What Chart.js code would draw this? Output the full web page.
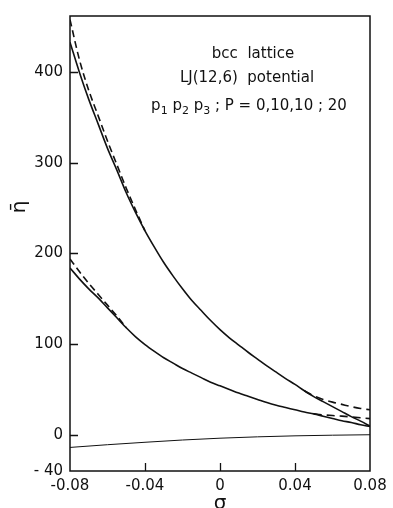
<!DOCTYPE html>
<html>
<head>
<meta charset="utf-8">
<script src="https://cdn.jsdelivr.net/npm/chart.js@4.4.1/dist/chart.umd.min.js"></script>
<style>
  html, body { margin: 0; padding: 0; background: #fff; }
</style>
</head>
<body>
<canvas id="chart" width="393" height="508"></canvas>
<script>
// strain values (sigma) for the solid curves
const sigma = [-0.08, -0.075, -0.07, -0.065, -0.06, -0.055, -0.05, -0.045, -0.04, -0.035, -0.03,
  -0.025, -0.02, -0.015, -0.01, -0.005, 0, 0.005, 0.01, 0.015, 0.02, 0.025, 0.03, 0.035, 0.04,
  0.045, 0.05, 0.055, 0.06, 0.065, 0.07, 0.075, 0.08];
const upperSolid = [433, 400, 370, 343, 316, 292, 267, 245, 225, 207, 190, 175, 161, 148, 137, 126,
  116, 107, 99, 91, 83.5, 76, 69, 62, 55.5, 48.5, 42, 36.5, 31, 25.5, 20, 15, 9.5];
const lowerSolid = [184, 172, 161, 151, 140, 129, 118, 108, 99.5, 92, 85, 79, 73, 68, 63, 58,
  54, 50, 46, 42.5, 39, 35.5, 32.5, 30, 27.5, 25, 23, 20.5, 18, 15.5, 13.5, 11, 9];

// bottom curve
const sigmaBottom = [-0.08, -0.06, -0.04, -0.02, 0, 0.02, 0.04, 0.06, 0.08];
const bottomSolid = [-14, -11, -8.3, -5.8, -3.8, -2.3, -1.2, -0.5, 0];

// dashed branches
const sigmaUpperDashL = [-0.08, -0.075, -0.07, -0.065, -0.06, -0.055, -0.05, -0.045, -0.04];
const upperDashL = [458, 414, 380, 352, 324, 298, 272, 248, 225];
const sigmaLowerDashL = [-0.08, -0.075, -0.07, -0.065, -0.06, -0.055, -0.05];
const lowerDashL = [194, 180, 167, 155, 143, 131, 118];
const sigmaUpperDashR = [0.045, 0.05, 0.055, 0.06, 0.065, 0.07, 0.075, 0.08];
const upperDashR = [48.5, 43, 39, 36, 33.5, 31, 29, 27.5];
const sigmaLowerDashR = [0.05, 0.055, 0.06, 0.065, 0.07, 0.075, 0.08];
const lowerDashR = [23, 22, 21.2, 20.5, 19.6, 18.7, 17.8];

// ticks
const xTickValues = [-0.08, -0.04, 0, 0.04, 0.08];
const xTickLabels = ['-0.08', '-0.04', '0', '0.04', '0.08'];
const xTickMarks = [-0.04, 0, 0.04];
const yTickValues = [-40, 0, 100, 200, 300, 400];
const yTickLabels = ['- 40', '0', '100', '200', '300', '400'];
const yTickMarks = [0, 100, 200, 300, 400];

const FONT = 'DejaVu Sans';

const pts = (xs, ys) => xs.map((x, i) => ({ x, y: ys[i] }));

function line(data, opts) {
  return Object.assign({
    data,
    borderColor: '#111',
    borderWidth: 1.6,
    pointRadius: 0,
    fill: false,
    cubicInterpolationMode: 'monotone'
  }, opts || {});
}

// frame, inward tick marks, annotation, y title
const decor = {
  id: 'decor',
  afterDraw(chart) {
    const { ctx, chartArea: a, scales } = chart;
    ctx.save();
    ctx.strokeStyle = '#111';
    ctx.lineWidth = 1.5;
    ctx.strokeRect(a.left, a.top, a.right - a.left, a.bottom - a.top);

    ctx.lineWidth = 1.3;
    ctx.beginPath();
    yTickMarks.forEach(v => {
      const y = Math.round(scales.y.getPixelForValue(v)) + 0.5;
      ctx.moveTo(a.left, y);
      ctx.lineTo(a.left + 8, y);
    });
    xTickMarks.forEach(v => {
      const x = Math.round(scales.x.getPixelForValue(v)) + 0.5;
      ctx.moveTo(x, a.bottom);
      ctx.lineTo(x, a.bottom - 8);
    });
    ctx.stroke();

    // text block
    ctx.fillStyle = '#111';
    ctx.textBaseline = 'alphabetic';
    ctx.textAlign = 'center';
    ctx.font = `15px ${FONT}`;
    const cx = a.left + (a.right - a.left) * 0.61;
    ctx.fillText('bcc  lattice', cx, a.top + 42);
    ctx.fillText('LJ(12,6)  potential', cx - 6, a.top + 66);

    const runs = [['p', 0], ['1', 1], [' p', 0], ['2', 1], [' p', 0], ['3', 1], [' ; P = 0,10,10 ; 20', 0]];
    const big = `15px ${FONT}`, small = `11px ${FONT}`;
    let w = 0;
    runs.forEach(r => { ctx.font = r[1] ? small : big; w += ctx.measureText(r[0]).width; });
    let x = cx - 4 - w / 2;
    const base = a.top + 94;
    ctx.textAlign = 'left';
    runs.forEach(r => {
      ctx.font = r[1] ? small : big;
      ctx.fillText(r[0], x, r[1] ? base + 4 : base);
      x += ctx.measureText(r[0]).width;
    });

    // y axis title
    ctx.translate(20, 207);
    ctx.rotate(-Math.PI / 2);
    ctx.textAlign = 'center';
    ctx.textBaseline = 'middle';
    ctx.font = `20px ${FONT}`;
    ctx.fillText('\u03B7\u0304', 0, 0);
    ctx.restore();
  }
};

new Chart(document.getElementById('chart'), {
  type: 'line',
  data: {
    datasets: [
      line(pts(sigma, upperSolid)),
      line(pts(sigma, lowerSolid)),
      line(pts(sigmaBottom, bottomSolid), { borderWidth: 1 }),
      line(pts(sigmaUpperDashL, upperDashL), { borderDash: [7, 4] }),
      line(pts(sigmaLowerDashL, lowerDashL), { borderDash: [7, 4] }),
      line(pts(sigmaUpperDashR, upperDashR), { borderDash: [8, 5] }),
      line(pts(sigmaLowerDashR, lowerDashR), { borderDash: [8, 5] })
    ]
  },
  options: {
    responsive: false,
    devicePixelRatio: 1,
    animation: false,
    layout: { padding: { left: 0, top: 10, right: 23, bottom: 0 } },
    plugins: { legend: { display: false }, tooltip: { enabled: false } },
    scales: {
      x: {
        type: 'linear',
        min: -0.08,
        max: 0.08,
        afterFit: s => { s.height = 37; },
        afterBuildTicks: s => { s.ticks = xTickValues.map(v => ({ value: v })); },
        grid: { display: false, drawTicks: false },
        border: { display: false },
        ticks: {
          padding: 6,
          maxRotation: 0,
          color: '#111',
          font: { family: FONT, size: 15 },
          callback: v => xTickLabels[xTickValues.indexOf(v)]
        },
        title: {
          display: true,
          text: '\u03C3',
          color: '#111',
          font: { family: FONT, size: 20, lineHeight: 1 },
          padding: { top: 0, bottom: -6 }
        }
      },
      y: {
        type: 'linear',
        min: -40,
        max: 462,
        afterFit: s => { s.width = 70; },
        afterBuildTicks: s => { s.ticks = yTickValues.map(v => ({ value: v })); },
        grid: { display: false, drawTicks: false },
        border: { display: false },
        ticks: {
          padding: 7,
          color: '#111',
          font: { family: FONT, size: 15 },
          callback: v => yTickLabels[yTickValues.indexOf(v)]
        }
      }
    }
  },
  plugins: [decor]
});
</script>
</body>
</html>
